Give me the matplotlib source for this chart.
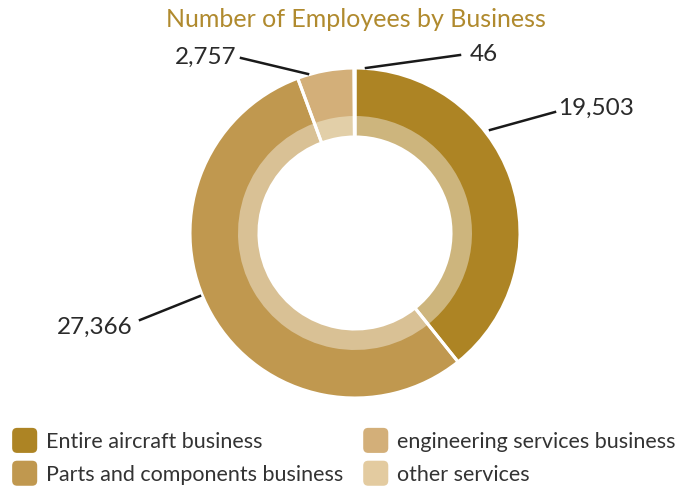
import matplotlib.pyplot as plt
from matplotlib.patches import Patch, FancyBboxPatch
from matplotlib.legend_handler import HandlerPatch

plt.rcParams['font.family'] = ['Lato', 'DejaVu Sans']

# employees per business segment, clockwise from 12 o'clock
segments = ["Entire aircraft business", "Parts and components business",
            "engineering services business", "other services"]
employees = [19503, 27366, 2757, 46]
outer_colors = ["#AD8424", "#C0984F", "#D3AF79", "#E3CBA0"]
inner_colors = ["#CDB57D", "#D9C195", "#E2CFA8", "#EEE0C6"]


class RoundBox(HandlerPatch):
    def create_artists(self, legend, orig_handle, xdescent, ydescent,
                       width, height, fontsize, trans):
        s = height * 1.3
        p = FancyBboxPatch((-xdescent + (width - s) / 2, -ydescent + (height - s) / 2),
                           s, s, boxstyle=f"round,pad=0,rounding_size={s * 0.2}",
                           facecolor=orig_handle.get_facecolor(), edgecolor='none',
                           transform=trans)
        return [p]


W, H = 683, 486
fig = plt.figure(figsize=(W / 100, H / 100), dpi=100)
ax = fig.add_axes([0, 0, 1, 1])
ax.set_aspect('equal')
ax.axis('off')

cx, cy = 355, H - 233
ax.pie(employees, colors=outer_colors, radius=165, center=(cx, cy),
       startangle=90, counterclock=False, wedgeprops=dict(width=69, linewidth=0))
ax.pie(employees, colors=inner_colors, radius=117, center=(cx, cy),
       startangle=90, counterclock=False, wedgeprops=dict(width=21, linewidth=0))
# white separators running through both bands
ax.pie(employees, colors=['none'] * 4, radius=165, center=(cx, cy),
       startangle=90, counterclock=False,
       wedgeprops=dict(width=69, edgecolor='white', linewidth=2.2))
ax.set_xlim(0, W)
ax.set_ylim(0, H)

# value callouts: line start, line end, text anchor
callouts = [((490, 130), (555, 112), (558, 108), 'left'),
            ((200, 296), (140, 320), (133, 327), 'right'),
            ((308, 74), (241, 58), (237, 57), 'right'),
            ((366, 68), (460, 55), (470, 55), 'left')]
for v, (p0, p1, t, ha) in zip(employees, callouts):
    ax.plot([p0[0], p1[0]], [H - p0[1], H - p1[1]], color='#1a1a1a', lw=1.8)
    ax.text(t[0], H - t[1], f"{v:,}", fontsize=17.5, color='#2a2a2a',
            ha=ha, va='center')

ax.text(356, H - 20, "Number of Employees by Business", fontsize=18,
        color='#B08A2E', ha='center', va='center')

handles = [Patch(facecolor=c) for c in outer_colors]
fig.legend(handles, segments, loc='lower left', bbox_to_anchor=(-0.008, -0.037), ncol=2,
           frameon=False, fontsize=15.5, handlelength=1.0, handleheight=1.0,
           handletextpad=0.5, columnspacing=1.0, labelspacing=0.55,
           labelcolor='#333333', handler_map={Patch: RoundBox()})

fig.savefig('out.png', dpi=100)
